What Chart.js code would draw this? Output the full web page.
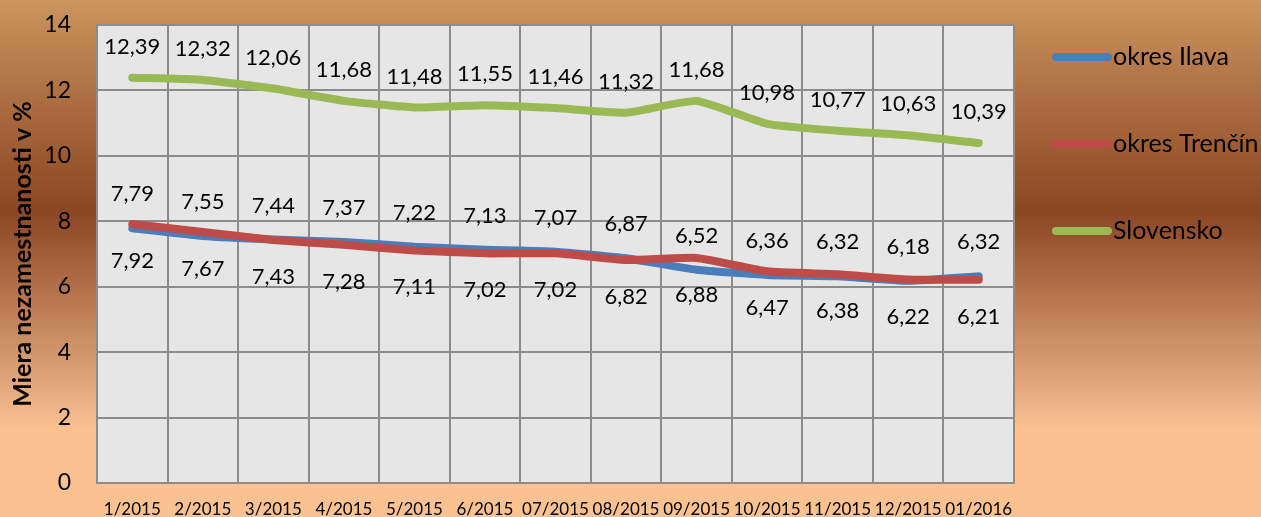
<!DOCTYPE html>
<html>
<head>
<meta charset="utf-8">
<script src="https://cdn.jsdelivr.net/npm/chart.js@4"></script>
<style>
  html, body { margin: 0; padding: 0; }
  body {
    width: 1261px; height: 517px; overflow: hidden;
    background: linear-gradient(to bottom, #cb955f 0%, #a8683c 22%, #8b4623 41%, #c2835a 62%, #fac191 83%, #fac191 100%);
  }
  #wrap { position: relative; width: 1261px; height: 517px; }
</style>
</head>
<body>
<div id="wrap"><canvas id="lineChart" width="1261" height="517"></canvas></div>
<script>
// mesiace
let labels = ["1/2015","2/2015","3/2015","4/2015","5/2015","6/2015","07/2015","08/2015","09/2015","10/2015","11/2015","12/2015","01/2016"];
let ilava = [7.79,7.55,7.44,7.37,7.22,7.13,7.07,6.87,6.52,6.36,6.32,6.18,6.32];
let trencin = [7.92,7.67,7.43,7.28,7.11,7.02,7.02,6.82,6.88,6.47,6.38,6.22,6.21];
let slovensko = [12.39,12.32,12.06,11.68,11.48,11.55,11.46,11.32,11.68,10.98,10.77,10.63,10.39];
let yTicks = [0,2,4,6,8,10,12,14];

const FONT = "Lato, 'Noto Sans', sans-serif";

// popisky hodnot (nad / pod ciarou)
const valueLabels = {
  id: "valueLabels",
  afterDatasetsDraw(chart) {
    const ctx = chart.ctx;
    ctx.save();
    ctx.font = "22px " + FONT;
    ctx.fillStyle = "#000";
    ctx.textAlign = "center";
    ctx.textBaseline = "middle";
    chart.data.datasets.forEach((ds, i) => {
      const meta = chart.getDatasetMeta(i);
      meta.data.forEach((pt, j) => {
        const txt = ds.data[j].toFixed(2).replace(".", ",");
        ctx.fillText(txt, pt.x, pt.y + ds.labelOffset);
      });
    });
    ctx.restore();
  }
};

// pozadie plochy grafu
const plotBg = {
  id: "plotBg",
  beforeDraw(chart) {
    const a = chart.chartArea, ctx = chart.ctx;
    ctx.save();
    ctx.fillStyle = "#e6e6e6";
    ctx.fillRect(a.left, a.top, a.right - a.left, a.bottom - a.top);
    ctx.restore();
  },
  afterDraw(chart) {
    const a = chart.chartArea, ctx = chart.ctx;
    ctx.save();
    ctx.strokeStyle = "#8c8c8c";
    ctx.lineWidth = 2;
    ctx.strokeRect(a.left, a.top, a.right - a.left, a.bottom - a.top);
    ctx.restore();
  }
};

// legenda vpravo
const sideLegend = {
  id: "sideLegend",
  afterDraw(chart) {
    const ctx = chart.ctx;
    const ys = [57, 144, 231];
    ctx.save();
    ctx.font = "25px " + FONT;
    ctx.textBaseline = "middle";
    ctx.textAlign = "left";
    chart.data.datasets.forEach((ds, i) => {
      ctx.strokeStyle = ds.borderColor;
      ctx.lineWidth = 8;
      ctx.lineCap = "round";
      ctx.beginPath();
      ctx.moveTo(1056, ys[i]);
      ctx.lineTo(1108, ys[i]);
      ctx.stroke();
      ctx.fillStyle = "#000";
      ctx.fillText(ds.label, 1113, ys[i]);
    });
    ctx.restore();
  }
};

new Chart(document.getElementById("lineChart"), {
  type: "line",
  data: {
    labels: labels,
    datasets: [
      { label: "okres Ilava", data: ilava, borderColor: "#4a7ebb", labelOffset: -34, order: 3 },
      { label: "okres Trenčín", data: trencin, borderColor: "#be4b48", labelOffset: 37, order: 2 },
      { label: "Slovensko", data: slovensko, borderColor: "#98b954", labelOffset: -31, order: 1 }
    ]
  },
  options: {
    responsive: false,
    animation: false,
    layout: { padding: { top: 25, right: 247, bottom: 0, left: 0 } },
    elements: {
      line: { borderWidth: 8, tension: 0.15, borderCapStyle: "round", borderJoinStyle: "round", fill: false },
      point: { radius: 0 }
    },
    plugins: {
      legend: { display: false },
      tooltip: { enabled: false }
    },
    scales: {
      x: {
        offset: true,
        grid: { offset: true, color: "#8c8c8c", lineWidth: 2, drawTicks: false },
        border: { display: false },
        ticks: { color: "#000", font: { size: 17, family: FONT }, maxRotation: 0, autoSkip: false, padding: 16 },
        afterFit(scale) { scale.height = 34; scale.paddingLeft = 0; scale.paddingRight = 0; }
      },
      y: {
        min: 0, max: 14,
        afterBuildTicks(scale) { scale.ticks = yTicks.map(v => ({ value: v })); },
        grid: { color: "#8c8c8c", lineWidth: 2, drawTicks: false },
        border: { display: false },
        ticks: { color: "#000", font: { size: 23, family: FONT }, padding: 26 },
        title: { display: true, text: "Miera nezamestnanosti v %", color: "#000", font: { size: 25, weight: "bold", family: FONT }, padding: { top: 8, bottom: 0 } },
        afterFit(scale) { scale.width = 97; scale.paddingTop = 0; scale.paddingBottom = 0; }
      }
    }
  },
  plugins: [plotBg, valueLabels, sideLegend]
});
</script>
</body>
</html>
